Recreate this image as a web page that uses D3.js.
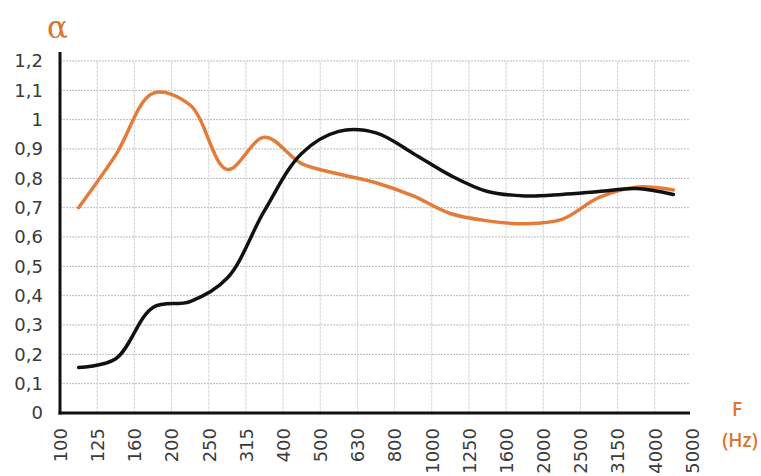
<!DOCTYPE html>
<html>
<head>
<meta charset="utf-8">
<script src="https://cdn.jsdelivr.net/npm/d3@7"></script>
<style>
  html, body { margin: 0; padding: 0; background: #fff; }
  svg { display: block; }
</style>
</head>
<body>
<svg id="chart" width="761" height="476"></svg>
<script>
// Third-octave band frequencies shown along the x axis (Hz)
const frequencyTicks = ["100","125","160","200","250","315","400","500","630","800",
                        "1000","1250","1600","2000","2500","3150","4000","5000"];

// Sound absorption coefficient per band, plotted between neighbouring tick labels
const alphaOrange = [0.70, 0.88, 1.09, 1.05, 0.83, 0.94, 0.85, 0.815, 0.785,
                     0.74, 0.68, 0.655, 0.645, 0.66, 0.735, 0.77, 0.76];
const alphaBlack  = [0.155, 0.185, 0.36, 0.38, 0.46, 0.69, 0.885, 0.96, 0.955,
                     0.885, 0.81, 0.755, 0.74, 0.745, 0.755, 0.765, 0.745];

const yTicks = [0, 0.1, 0.2, 0.3, 0.4, 0.5, 0.6, 0.7, 0.8, 0.9, 1, 1.1, 1.2];

const svg = d3.select("#chart");
const plotLeft = 60, plotRight = 692, plotBottom = 413, plotTop = 61;

const x = d3.scaleLinear().domain([0, frequencyTicks.length - 1]).range([plotLeft, plotRight]);
const y = d3.scaleLinear().domain([0, 1.2]).range([plotBottom, plotTop]);

const fmt = v => String(+v.toFixed(1)).replace(".", ",");

// grid
const grid = svg.append("g");
grid.selectAll("line.h")
  .data(yTicks.filter(d => d > 0))
  .join("line")
  .attr("x1", plotLeft).attr("x2", x(17) - 2)
  .attr("y1", d => y(d)).attr("y2", d => y(d))
  .attr("stroke", "#b9b9b9").attr("stroke-width", 1)
  .attr("stroke-dasharray", "2,1");
grid.selectAll("line.v")
  .data(d3.range(1, frequencyTicks.length - 1))
  .join("line")
  .attr("x1", d => x(d)).attr("x2", d => x(d))
  .attr("y1", plotBottom).attr("y2", y(1.2))
  .attr("stroke", "#d2d2d2").attr("stroke-width", 1)
  .attr("stroke-dasharray", "3,1");

// curves
const line = d3.line()
  .x((d, i) => x(i + 0.5))
  .y(d => y(d))
  .curve(d3.curveCatmullRom.alpha(0.5));

svg.append("path").datum(alphaOrange)
  .attr("d", line).attr("fill", "none")
  .attr("stroke", "#e27c3a").attr("stroke-width", 3.5)
  .attr("stroke-linecap", "round").attr("stroke-linejoin", "round");
svg.append("path").datum(alphaBlack)
  .attr("d", line).attr("fill", "none")
  .attr("stroke", "#111").attr("stroke-width", 3.5)
  .attr("stroke-linecap", "round").attr("stroke-linejoin", "round");

// axes
const yAxis = svg.append("g").attr("transform", `translate(${plotLeft},0)`)
  .call(d3.axisLeft(y).tickValues(yTicks).tickFormat(fmt).tickSize(0).tickPadding(17));
yAxis.select(".domain").remove();
yAxis.selectAll("text")
  .attr("font-family", "DejaVu Sans").attr("font-size", 18).attr("fill", "#3a3a3a");

const xAxis = svg.append("g").attr("transform", `translate(0,${plotBottom})`)
  .call(d3.axisBottom(x).tickValues(d3.range(frequencyTicks.length))
        .tickFormat(i => frequencyTicks[i]).tickSize(0));
xAxis.select(".domain").remove();
xAxis.selectAll("text")
  .attr("font-family", "DejaVu Sans").attr("font-size", 18).attr("fill", "#3a3a3a")
  .attr("text-anchor", "end")
  .attr("dy", "0.35em")
  .attr("transform", "translate(0,15) rotate(-90)")
  .attr("x", 0).attr("y", 0);

svg.append("line")
  .attr("x1", plotLeft).attr("x2", plotLeft)
  .attr("y1", y(1.2) - 9).attr("y2", plotBottom + 1.5)
  .attr("stroke", "#111").attr("stroke-width", 3);
svg.append("line")
  .attr("x1", plotLeft - 1.5).attr("x2", x(17) - 2)
  .attr("y1", plotBottom).attr("y2", plotBottom)
  .attr("stroke", "#111").attr("stroke-width", 3);

// axis titles
svg.append("text").text("α")
  .attr("x", 47).attr("y", 38)
  .attr("font-family", "DejaVu Serif").attr("font-size", 31)
  .attr("fill", "#d9762f");
svg.append("text").text("F")
  .attr("x", 737).attr("y", 416).attr("text-anchor", "middle")
  .attr("font-family", "Open Sans").attr("font-weight", 600).attr("font-size", 19)
  .attr("fill", "#d9762f");
svg.append("text").text("(Hz)")
  .attr("x", 740).attr("y", 447).attr("text-anchor", "middle")
  .attr("font-family", "Open Sans").attr("font-weight", 600).attr("font-size", 19)
  .attr("fill", "#d9762f");
</script>
</body>
</html>
